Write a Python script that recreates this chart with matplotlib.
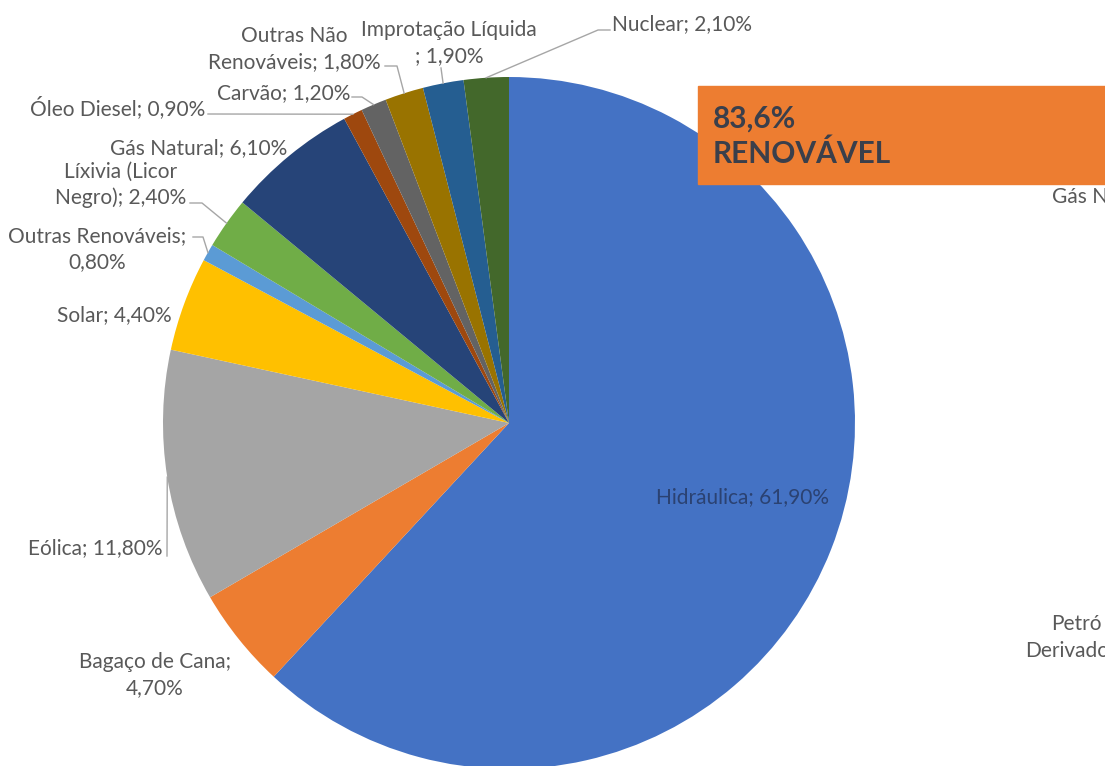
import numpy as np
import matplotlib.pyplot as plt

W, H = 1105, 766

fontes = ["Hidráulica", "Bagaço de Cana", "Eólica", "Solar", "Outras Renováveis",
          "Líxivia (Licor\nNegro)", "Gás Natural", "Óleo Diesel", "Carvão",
          "Outras Não\nRenováveis", "Improtação Líquida", "Nuclear"]
percentual = [61.9, 4.7, 11.8, 4.4, 0.8, 2.4, 6.1, 0.9, 1.2, 1.8, 1.9, 2.1]
separador = ["; ", ";\n", "; ", "; ", ";\n", "; ", "; ", "; ", "; ", "; ", "\n; ", "; "]
cores = ["#4472C4", "#ED7D31", "#A5A5A5", "#FFC000", "#5B9BD5", "#70AD47",
         "#264478", "#9E480E", "#636363", "#997300", "#255E91", "#43682B"]
renovavel = "83,6%\nRENOVÁVEL"
# trechos visiveis de rotulos de outro grafico, cortados na borda direita
cortados = ["Gás N", "Petró", "Derivado"]

# posicao dos rotulos em pixels (x, y a partir do topo), alinhamento, cotovelos da linha guia
layout = [
    ((743, 497), "center", None),
    ((155, 675), "center", None),
    ((163, 548), "right", [(167, 556)]),
    ((172, 315), "right", None),
    ((97, 249), "center", [(193, 237), (203, 237)]),
    ((121, 185), "center", [(190, 203), (202, 203)]),
    ((287, 148), "right", None),
    ((205, 108), "right", [(208, 114)]),
    ((350, 93), "right", [(352, 97), (362, 97)]),
    ((294, 49), "center", [(385, 66), (397, 66)]),
    ((449, 43), "center", [(441, 68)]),
    ((612, 24), "left", [(610, 30), (598, 30)]),
]

plt.rcParams['font.family'] = ['Lato', 'DejaVu Sans']
fig = plt.figure(figsize=(W / 100, H / 100), dpi=100)
ax = fig.add_axes([0, 0, 1, 1])

cx, cy, r = 509, 423, 346
ax.pie(percentual, colors=cores, startangle=90, counterclock=False,
       center=(cx, H - cy), radius=r, wedgeprops=dict(linewidth=0))
ax.set_xlim(0, W)
ax.set_ylim(0, H)
ax.set_aspect('equal')
ax.axis('off')

cum = np.cumsum(percentual) - np.array(percentual) / 2
for i, (nome, v) in enumerate(zip(fontes, percentual)):
    (tx, ty), ha, cot = layout[i]
    txt = nome + separador[i] + f"{v:.2f}".replace('.', ',') + "%"
    cor = "#2B4272" if i == 0 else "#595959"
    ax.text(tx, H - ty, txt, ha=ha, va='center', fontsize=15, color=cor,
            multialignment='center', linespacing=1.35)
    if cot:
        ang = np.deg2rad(90 - cum[i] * 3.6)
        ex, ey = cx + r * np.cos(ang), cy - r * np.sin(ang)
        pts = cot + [(ex, ey)]
        ax.plot([p[0] for p in pts], [H - p[1] for p in pts], color="#A6A6A6", lw=1)

# caixa laranja
ax.add_patch(plt.Rectangle((698, H - 184), 420, 98, color="#ED7D31", clip_on=False))
ax.text(713, H - 136, renovavel, ha='left', va='center', fontsize=21.5, fontweight='bold',
        color="#3A3F4B", linespacing=1.3)

ax.text(1052, H - 197, cortados[0], ha='left', va='center', fontsize=15, color="#595959")
ax.text(1051, H - 624, cortados[1], ha='left', va='center', fontsize=15, color="#595959")
ax.text(1025, H - 651, cortados[2], ha='left', va='center', fontsize=15, color="#595959")

fig.savefig("out.png", dpi=100)
